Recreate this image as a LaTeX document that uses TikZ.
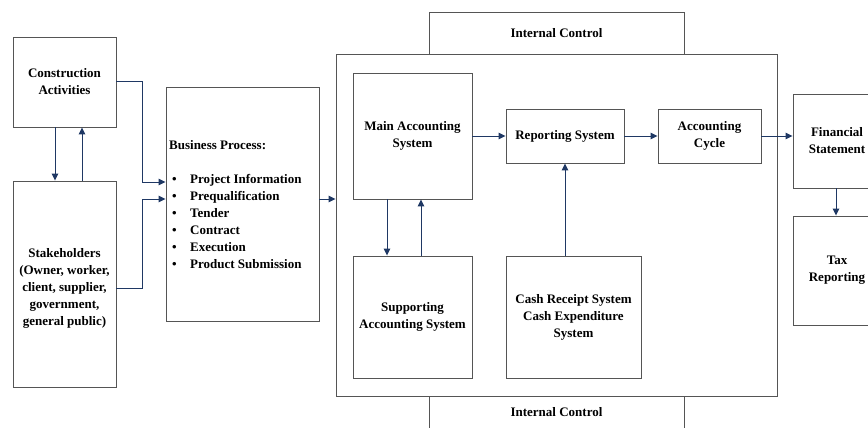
\documentclass[tikz,border=0pt]{standalone}
\usepackage{fontspec}
\setmainfont{Liberation Serif}
\usetikzlibrary{arrows.meta}
\definecolor{boxgray}{HTML}{555555}
\definecolor{navy}{HTML}{1F3864}
\begin{document}
\begin{tikzpicture}[x=1pt,y=-1pt,
  txt/.style={font=\bfseries\fontsize{13}{17}\selectfont},
  box/.style={draw=boxgray, line width=0.9pt, fill=white, align=center, inner sep=2pt, txt},
  lbl/.style={align=center, inner sep=0pt, txt},
  arr/.style={draw=navy, line width=1pt, -{Triangle[length=7pt,width=6.5pt]}}]
\useasboundingbox (0,0) rectangle (868,428);
\fill[white] (0,0) rectangle (868,428);
\clip (0,0) rectangle (868,428);

% left column
\node[box, minimum width=103pt, minimum height=90pt] (ca) at (64.5,82) {Construction\\Activities};
\node[box, minimum width=103pt, minimum height=206pt] (sh) at (64.5,284) {};
\node[lbl] (shtext) at (64.5,288) {Stakeholders\\(Owner, worker,\\client, supplier,\\government,\\general public)};

% business process
\node[box, minimum width=153pt, minimum height=234pt] (bp) at (242.5,204) {};
\node[lbl, align=left, anchor=north west] (bptext) at (169,140) {Business Process:\\[17pt]
\hspace*{3pt}\makebox[18pt][l]{\textbullet}Project Information\\
\hspace*{3pt}\makebox[18pt][l]{\textbullet}Prequalification\\
\hspace*{3pt}\makebox[18pt][l]{\textbullet}Tender\\
\hspace*{3pt}\makebox[18pt][l]{\textbullet}Contract\\
\hspace*{3pt}\makebox[18pt][l]{\textbullet}Execution\\
\hspace*{3pt}\makebox[18pt][l]{\textbullet}Product Submission};

% internal control
\node[box, minimum width=255pt, minimum height=42pt] (ict) at (556.5,33) {Internal Control};
\draw[boxgray, line width=0.9pt] (429,440) -- (429,396) (684,396) -- (684,440);
\node[lbl] (icb) at (556.5,412) {Internal Control};

% big box
\node[box, minimum width=441pt, minimum height=342pt] (big) at (556.5,225) {};

\node[box, minimum width=119pt, minimum height=126pt] (mas) at (412.5,136) {Main Accounting\\System};
\node[box, minimum width=118pt, minimum height=54pt] (rs) at (565,136) {Reporting System};
\node[box, minimum width=103pt, minimum height=54pt] (ac) at (709.5,136) {Accounting\\Cycle};
\node[box, minimum width=119pt, minimum height=122pt] (sas) at (412.5,317) {Supporting\\Accounting System};
\node[box, minimum width=135pt, minimum height=122pt] (cr) at (573.5,317) {Cash Receipt System\\Cash Expenditure\\System};

% right column
\node[box, minimum width=88pt, minimum height=94pt] (fs) at (837,141) {Financial\\Statement};
\node[box, minimum width=88pt, minimum height=109pt] (tr) at (837,270.5) {Tax\\Reporting};

% connectors
\draw[arr] ([xshift=-9.5pt]ca.south) -- ([xshift=-9.5pt]sh.north);
\draw[arr] ([xshift=17.5pt]sh.north) -- ([xshift=17.5pt]ca.south);
\coordinate (j1) at (142,82);
\coordinate (j2) at (142,288);
\draw[arr] (ca.east) -- (j1) |- ([yshift=22pt]bp.west);
\draw[arr] ([yshift=-4pt]sh.east) -- (j2) |- ([yshift=5pt]bp.west);
\draw[arr] ([yshift=5pt]bp.east) -- ([yshift=26pt]big.west);
\draw[arr] (mas.east) -- (rs.west);
\draw[arr] (rs.east) -- (ac.west);
\draw[arr] (ac.east) -- (ac.east -| fs.west);
\draw[arr] ([xshift=-1pt]fs.south) -- ([xshift=-1pt]tr.north);
\draw[arr] ([xshift=-25.5pt]mas.south) -- ([xshift=-25.5pt]sas.north);
\draw[arr] ([xshift=8.5pt]sas.north) -- ([xshift=8.5pt]mas.south);
\draw[arr] (cr.north -| rs.south) -- (rs.south);
\end{tikzpicture}
\end{document}
